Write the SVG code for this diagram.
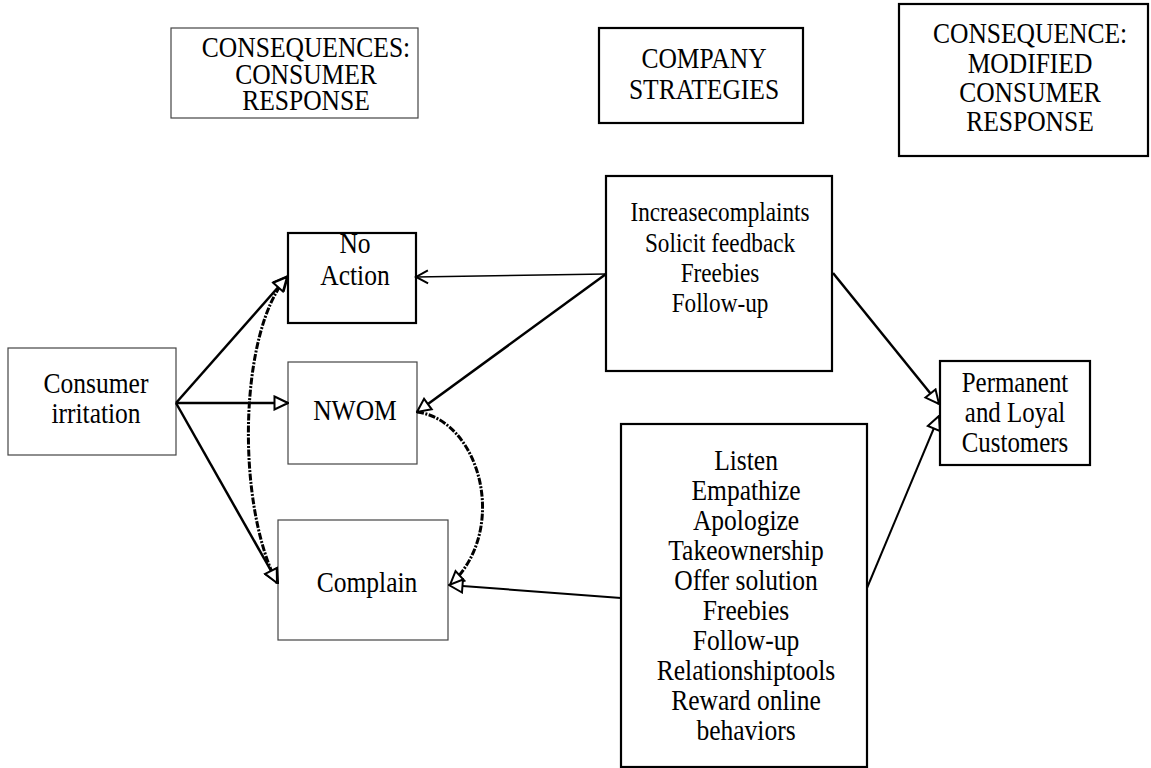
<svg xmlns="http://www.w3.org/2000/svg" width="1151" height="768" viewBox="0 0 1151 768">
<style>
text{font-family:"Liberation Serif","Times New Roman",serif;font-size:29px;fill:#000;text-anchor:middle}
.thin{fill:#fff;stroke:#444;stroke-width:1.2}
.thick{fill:#fff;stroke:#000;stroke-width:2.2}
.ln{fill:none;stroke:#000;stroke-width:2.5}
.dash{fill:none;stroke:#000;stroke-width:3;stroke-dasharray:7 1.5 2 1.5}
</style>
<defs>
<marker id="tri" markerUnits="userSpaceOnUse" viewBox="0 0 16 16" markerWidth="16" markerHeight="16" refX="15" refY="8" orient="auto-start-reverse">
<path d="M1.5,1.5 L15,8 L1.5,14.5 Z" fill="#fff" stroke="#000" stroke-width="2"/>
</marker>
<marker id="vee" markerUnits="userSpaceOnUse" viewBox="0 0 16 16" markerWidth="16" markerHeight="16" refX="14" refY="8" orient="auto">
<path d="M2,1.5 L14,8 L2,14.5" fill="none" stroke="#000" stroke-width="2"/>
</marker>
</defs>
<rect width="1151" height="768" fill="#fff"/>
<g id="h1"><rect class="thin" x="171" y="28" width="247" height="90"/>
<g transform="translate(306 0) scale(0.88 1)"><text x="0" y="57">CONSEQUENCES:</text><text x="0" y="84">CONSUMER</text><text x="0" y="110">RESPONSE</text></g></g>
<g id="h2"><rect class="thick" x="599" y="28" width="204" height="95"/>
<g transform="translate(704 0) scale(0.88 1)"><text x="0" y="68">COMPANY</text><text x="0" y="99">STRATEGIES</text></g></g>
<g id="h3"><rect class="thick" x="899" y="4" width="249" height="152"/>
<g transform="translate(1030 0) scale(0.88 1)"><text x="0" y="43">CONSEQUENCE:</text><text x="0" y="73">MODIFIED</text><text x="0" y="102">CONSUMER</text><text x="0" y="131">RESPONSE</text></g></g>
<g id="irritation"><rect class="thin" x="8" y="348" width="168" height="107"/>
<g transform="translate(96 0) scale(0.88 1)"><text x="0" y="393">Consumer</text><text x="0" y="423">irritation</text></g></g>
<g id="noaction"><rect class="thick" x="288" y="233" width="128" height="90"/>
<g transform="translate(355 0) scale(0.88 1)"><text x="0" y="253">No</text><text x="0" y="285">Action</text></g></g>
<g id="nwom"><rect class="thin" x="288" y="362" width="129" height="102"/>
<g transform="translate(355 0) scale(0.88 1)"><text x="0" y="420">NWOM</text></g></g>
<g id="complain"><rect class="thin" x="278" y="520" width="170" height="120"/>
<g transform="translate(367 0) scale(0.88 1)"><text x="0" y="592">Complain</text></g></g>
<g id="strat1"><rect class="thick" x="606" y="176" width="226" height="195"/>
<g transform="translate(720 0) scale(0.86 1)"><text x="0" y="221" style="font-size:27px">Increasecomplaints</text><text x="0" y="252" style="font-size:27px">Solicit feedback</text><text x="0" y="282" style="font-size:27px">Freebies</text><text x="0" y="312" style="font-size:27px">Follow-up</text></g></g>
<g id="strat2"><rect class="thick" x="621" y="424" width="246" height="343"/>
<g transform="translate(746 0) scale(0.88 1)"><text x="0" y="470">Listen</text><text x="0" y="500">Empathize</text><text x="0" y="530">Apologize</text><text x="0" y="560">Takeownership</text><text x="0" y="590">Offer solution</text><text x="0" y="620">Freebies</text><text x="0" y="650">Follow-up</text><text x="0" y="680">Relationshiptools</text><text x="0" y="710">Reward online</text><text x="0" y="740">behaviors</text></g></g>
<g id="loyal"><rect class="thick" x="940" y="361" width="150" height="104"/>
<g transform="translate(1015 0) scale(0.86 1)"><text x="0" y="392">Permanent</text><text x="0" y="422">and Loyal</text><text x="0" y="452">Customers</text></g></g>
<g id="connectors">
<path class="ln" d="M176,403 L288,276" marker-end="url(#tri)"/>
<path class="ln" d="M176,403 L288,403" marker-end="url(#tri)"/>
<path class="ln" d="M176,403 L278,583" marker-end="url(#tri)"/>
<path class="dash" d="M287,277 C240,330 235,500 277,583" marker-start="url(#tri)" marker-end="url(#tri)"/>
<path class="dash" d="M417,412 C480,420 510,530 450,585" marker-end="url(#tri)"/>
<path class="ln" style="stroke-width:1.6" d="M606,274 L416,277" marker-end="url(#vee)"/>
<path class="ln" d="M606,274 L417,412" marker-end="url(#tri)"/>
<path class="ln" style="stroke-width:2" d="M621,598 L449,585" marker-end="url(#tri)"/>
<path class="ln" d="M833,273 L939,404" marker-end="url(#tri)"/>
<path class="ln" style="stroke-width:2" d="M867,588 L939,416" marker-end="url(#tri)"/>
</g>
</svg>
